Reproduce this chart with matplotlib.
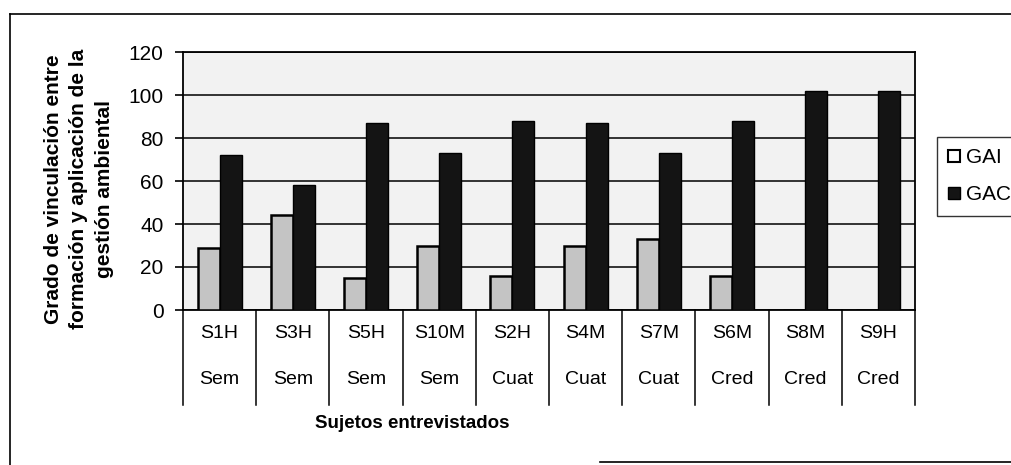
import numpy as np
import matplotlib
matplotlib.use("Agg")
import matplotlib.pyplot as plt
from matplotlib.lines import Line2D
from matplotlib.patches import Patch

# datos
sujetos = ["S1H", "S3H", "S5H", "S10M", "S2H", "S4M", "S7M", "S6M", "S8M", "S9H"]
modalidad = ["Sem", "Sem", "Sem", "Sem", "Cuat", "Cuat", "Cuat", "Cred", "Cred", "Cred"]
gai = [29, 44, 15, 30, 16, 30, 33, 16, 0, 0]
gac = [72, 58, 87, 73, 88, 87, 73, 88, 102, 102]
yticks = [0, 20, 40, 60, 80, 100, 120]

plt.rcParams['font.family'] = ['Liberation Sans', 'DejaVu Sans']

fig = plt.figure(figsize=(10.11, 4.65), dpi=100)
ax = fig.add_axes([183 / 1011, 1 - 310 / 465, (915 - 183) / 1011, (310 - 52) / 465])
ax.set_facecolor('#f2f2f2')

x = np.arange(len(sujetos))
w = 0.3
ax.bar(x - w / 2, gai, width=w, color='#c4c4c4', edgecolor='black', linewidth=1.8, zorder=3, label='GAI')
ax.bar(x + w / 2, gac, width=w, color='#141414', edgecolor='black', linewidth=1.0, zorder=3, label='GAC')

ax.set_xlim(-0.5, len(sujetos) - 0.5)
ax.set_ylim(0, 120)
ax.set_yticks(yticks)
ax.tick_params(axis='y', direction='out', length=6, width=1.2, pad=8, labelsize=15)
ax.set_xticks([])
ax.grid(axis='y', color='black', linewidth=1.1, zorder=1)
for s in ax.spines.values():
    s.set_color('black')
    s.set_linewidth(1.3)

# eje de categorias en dos niveles
tr = ax.get_xaxis_transform()
for b in np.arange(len(sujetos) + 1) - 0.5:
    ax.plot([b, b], [0, -0.37], color='black', lw=1.1, transform=tr, clip_on=False)
for i in x:
    ax.text(i, -0.09, sujetos[i], transform=tr, ha='center', va='center', fontsize=14)
    ax.text(i, -0.27, modalidad[i], transform=tr, ha='center', va='center', fontsize=14)

fig.text(412 / 1011, 1 - 423 / 465, 'Sujetos entrevistados', ha='center', va='center',
         fontsize=13.5, fontweight='bold')
fig.text(79 / 1011, 1 - 189 / 465,
         'Grado de vinculación entre\nformación y aplicación de la\ngestión ambiental',
         rotation=90, ha='center', va='center', multialignment='center',
         fontsize=15, fontweight='bold', linespacing=1.4)

handles = [Patch(facecolor='white', edgecolor='black', linewidth=1.5, label='GAI'),
           Patch(facecolor='#141414', edgecolor='black', label='GAC')]
fig.legend(handles=handles, loc='upper left', bbox_to_anchor=(937 / 1011, 1 - 137 / 465),
           frameon=True, fancybox=False, edgecolor='black', fontsize=15,
           handlelength=0.55, handleheight=0.55, handletextpad=0.3, borderpad=0.55,
           labelspacing=0.85, borderaxespad=0)

# marco exterior
fig.add_artist(Line2D([10 / 1011, 10 / 1011], [0, 1 - 14 / 465], color='black', lw=1.2))
fig.add_artist(Line2D([10 / 1011, 1], [1 - 14 / 465, 1 - 14 / 465], color='black', lw=1.2))
fig.add_artist(Line2D([600 / 1011, 1], [1 - 462 / 465, 1 - 462 / 465], color='black', lw=1.2))

fig.savefig('out.png', dpi=100)
